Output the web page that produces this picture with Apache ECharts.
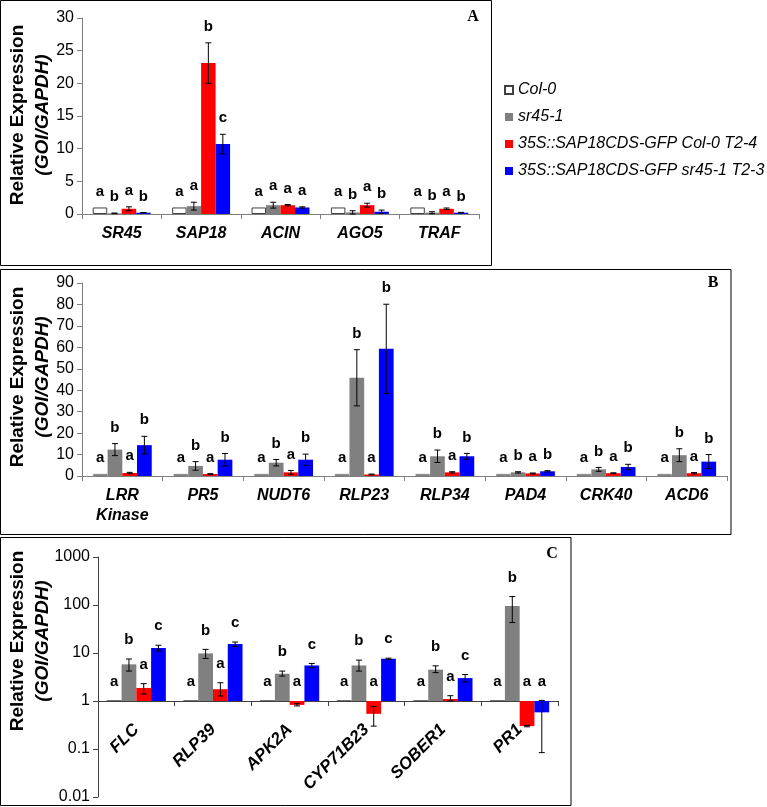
<!DOCTYPE html>
<html><head><meta charset="utf-8">
<script src="https://cdn.jsdelivr.net/npm/echarts@6/dist/echarts.min.js"></script>
<style>html,body{margin:0;padding:0;background:#fff}#c{width:767px;height:807px}</style>
</head><body><div id="c"></div>
<script>
const seriesNames = ['Col-0', 'sr45-1', '35S::SAP18CDS-GFP Col-0 T2-4', '35S::SAP18CDS-GFP sr45-1 T2-3'];

// ---------- Panel A ----------
const catsA = ['SR45', 'SAP18', 'ACIN', 'AGO5', 'TRAF'];
const col0A = [1, 1, 1, 1, 1];
const col0A_sd = [0, 0, 0, 0, 0];
const sr45A = [0.1, 1.2, 1.35, 0.25, 0.2];
const sr45A_sd = [0.05, 0.6, 0.45, 0.25, 0.15];
const redA = [0.8, 23.1, 1.35, 1.35, 0.8];
const redA_sd = [0.3, 3.1, 0.1, 0.3, 0.12];
const blueA = [0.2, 10.7, 1.0, 0.35, 0.2];
const blueA_sd = [0.03, 1.5, 0.1, 0.25, 0.05];
const lettersA_col0 = ['a', 'a', 'a', 'a', 'a'];
const lettersA_sr45 = ['b', 'a', 'a', 'b', 'b'];
const lettersA_red = ['a', 'b', 'a', 'a', 'a'];
const lettersA_blue = ['b', 'c', 'a', 'b', 'b'];
const axisA = { min: 0, max: 30, interval: 5 };

// ---------- Panel B ----------
const catsB = ['LRR\nKinase', 'PR5', 'NUDT6', 'RLP23', 'RLP34', 'PAD4', 'CRK40', 'ACD6'];
const col0B = [1, 1, 1, 1, 1, 1, 1, 1];
const col0B_sd = [0, 0, 0, 0, 0, 0, 0, 0];
const sr45B = [12.3, 4.7, 6.2, 45.8, 9.2, 1.7, 3.1, 9.7];
const sr45B_sd = [2.8, 2.0, 1.5, 13.1, 2.9, 0.3, 0.9, 3.0];
const redB = [1.4, 0.9, 1.7, 0.7, 1.7, 1.2, 1.3, 1.3];
const redB_sd = [0.3, 0.2, 0.9, 0.2, 0.3, 0.2, 0.2, 0.3];
const blueB = [14.4, 7.6, 7.6, 59.3, 9.2, 2.2, 4.2, 6.7];
const blueB_sd = [4.1, 2.9, 2.6, 20.8, 1.35, 0.3, 1.25, 3.3];
const lettersB_col0 = ['a', 'a', 'a', 'a', 'a', 'a', 'a', 'a'];
const lettersB_sr45 = ['b', 'b', 'b', 'b', 'b', 'b', 'b', 'b'];
const lettersB_red = ['a', 'a', 'a', 'a', 'a', 'a', 'a', 'a'];
const lettersB_blue = ['b', 'b', 'b', 'b', 'b', 'b', 'b', 'b'];
const axisB = { min: 0, max: 90, interval: 10 };

// ---------- Panel C (log scale, asymmetric error bounds) ----------
const catsC = ['FLC', 'RLP39', 'APK2A', 'CYP71B23', 'SOBER1', 'PR1'];
const col0C = [1, 1, 1, 1, 1, 1];
const col0C_lo = [1, 1, 1, 1, 1, 1];
const col0C_hi = [1, 1, 1, 1, 1, 1];
const sr45C = [5.8, 9.8, 3.7, 5.5, 4.5, 95];
const sr45C_lo = [4.2, 7.7, 3.3, 4.2, 3.9, 43];
const sr45C_hi = [7.5, 11.9, 4.2, 7.1, 5.4, 150];
const redC = [1.87, 1.76, 0.83, 0.54, 1.1, 0.30];
const redC_lo = [1.4, 1.27, 0.79, 0.3, 1.0, 0.29];
const redC_hi = [2.3, 2.4, 0.88, 0.77, 1.29, 0.31];
const blueC = [12.7, 15.4, 5.5, 7.6, 3.0, 0.58];
const blueC_lo = [11.0, 13.6, 4.93, 7.3, 2.5, 0.084];
const blueC_hi = [14.5, 16.9, 6.06, 7.8, 3.56, 1.03];
const lettersC_col0 = ['a', 'a', 'a', 'a', 'a', 'a'];
const lettersC_sr45 = ['b', 'b', 'b', 'b', 'b', 'b'];
const lettersC_red = ['a', 'a', 'a', 'a', 'a', 'a'];
const lettersC_blue = ['c', 'c', 'c', 'c', 'c', 'a'];
const axisC = { min: 0.01, max: 1000 };

// ---------- helpers ----------
const FONT = 'Liberation Sans';
const colors = ['#ffffff', '#808080', '#ff0000', '#0000ff'];
const gaps = [0.27, 0.27, 0.23];

function bar(panel, k, data, borderCol) {
  return {
    type: 'bar', name: seriesNames[k], xAxisIndex: panel, yAxisIndex: panel,
    data: data, barGap: '0%', barCategoryGap: (gaps[panel] * 100) + '%',
    itemStyle: { color: colors[k], borderColor: k === 0 ? borderCol : colors[k], borderWidth: k === 0 ? 1 : 0 },
    emphasis: { disabled: true }
  };
}
function sym(v, sd) { return { lo: v.map((x, i) => x - sd[i]), hi: v.map((x, i) => x + sd[i]) }; }

function err(panel, k, vals, lo, hi, letters, labelOff, baseline) {
  return {
    type: 'custom', xAxisIndex: panel, yAxisIndex: panel, z: 5, silent: true, clip: false,
    data: vals.map((v, i) => [i, v, lo[i], hi[i]]),
    encode: { x: 0, y: 1 },
    renderItem: function (params, api) {
      const i = api.value(0), v = api.value(1), l = api.value(2), h = api.value(3);
      const band = api.size([1, 0], [i, baseline])[0];
      const w = band * (1 - gaps[panel]) / 4;
      const cx = api.coord([i, baseline])[0] + (k - 1.5) * w;
      const ch = [];
      if (h - l > 1e-9) {
        const y1 = api.coord([i, h])[1], y2 = api.coord([i, l])[1];
        const st = { stroke: '#000', lineWidth: 1 };
        ch.push({ type: 'line', shape: { x1: cx, y1: y1, x2: cx, y2: y2 }, style: st });
        ch.push({ type: 'line', shape: { x1: cx - 3, y1: y1, x2: cx + 3, y2: y1 }, style: st });
        ch.push({ type: 'line', shape: { x1: cx - 3, y1: y2, x2: cx + 3, y2: y2 }, style: st });
      }
      const top = Math.max(h, v, baseline);
      const ty = api.coord([i, top])[1] - labelOff;
      ch.push({ type: 'text', x: cx, y: ty, style: { text: letters[i], fill: '#000', font: 'bold 15px "' + FONT + '"', align: 'center', verticalAlign: 'middle' } });
      return { type: 'group', children: ch };
    }
  };
}

const eA = [sym(col0A, col0A_sd), sym(sr45A, sr45A_sd), sym(redA, redA_sd), sym(blueA, blueA_sd)];
const eB = [sym(col0B, col0B_sd), sym(sr45B, sr45B_sd), sym(redB, redB_sd), sym(blueB, blueB_sd)];

const series = [
  bar(0, 0, col0A, '#404040'), bar(0, 1, sr45A), bar(0, 2, redA), bar(0, 3, blueA),
  bar(1, 0, col0B, '#808080'), bar(1, 1, sr45B), bar(1, 2, redB), bar(1, 3, blueB),
  bar(2, 0, col0C, '#404040'), bar(2, 1, sr45C), bar(2, 2, redC), bar(2, 3, blueC),
  err(0, 0, col0A, eA[0].lo, eA[0].hi, lettersA_col0, 16, 0),
  err(0, 1, sr45A, eA[1].lo, eA[1].hi, lettersA_sr45, 16, 0),
  err(0, 2, redA, eA[2].lo, eA[2].hi, lettersA_red, 16, 0),
  err(0, 3, blueA, eA[3].lo, eA[3].hi, lettersA_blue, 16, 0),
  err(1, 0, col0B, eB[0].lo, eB[0].hi, lettersB_col0, 16, 0),
  err(1, 1, sr45B, eB[1].lo, eB[1].hi, lettersB_sr45, 16, 0),
  err(1, 2, redB, eB[2].lo, eB[2].hi, lettersB_red, 16, 0),
  err(1, 3, blueB, eB[3].lo, eB[3].hi, lettersB_blue, 16, 0),
  err(2, 0, col0C, col0C_lo, col0C_hi, lettersC_col0, 19, 1),
  err(2, 1, sr45C, sr45C_lo, sr45C_hi, lettersC_sr45, 19, 1),
  err(2, 2, redC, redC_lo, redC_hi, lettersC_red, 19, 1),
  err(2, 3, blueC, blueC_lo, blueC_hi, lettersC_blue, 19, 1)
];

function xAx(grid, cats, lineCol, extra) {
  return Object.assign({
    type: 'category', gridIndex: grid, data: cats,
    axisLine: { show: true, onZero: false, lineStyle: { color: lineCol, width: 1 } },
    axisTick: { show: true, length: 5, lineStyle: { color: lineCol } },
    axisLabel: { interval: 0, color: '#000', fontFamily: FONT, fontSize: 16, fontWeight: 'bold', fontStyle: 'italic', margin: 10, lineHeight: 20 },
    splitLine: { show: false }
  }, extra || {});
}
function yAx(grid, lineCol, extra) {
  return Object.assign({
    type: 'value', gridIndex: grid,
    axisLine: { show: true, lineStyle: { color: lineCol, width: 1 } },
    axisTick: { show: true, length: 5, lineStyle: { color: lineCol } },
    axisLabel: { color: '#000', fontFamily: FONT, fontSize: 16, margin: 8 },
    splitLine: { show: false }
  }, extra);
}

function yTitle(x, y) {
  return {
    type: 'text', x: x, y: y, rotation: Math.PI / 2, silent: true,
    style: {
      text: '{t|Relative Expression}\n{i|(GOI/GAPDH)}',
      align: 'center', verticalAlign: 'middle', fill: '#000',
      rich: {
        t: { fontFamily: FONT, fontSize: 19, fontWeight: 'bold', lineHeight: 25, fill: '#000' },
        i: { fontFamily: FONT, fontSize: 19, fontWeight: 'bold', fontStyle: 'italic', lineHeight: 25, fill: '#000' }
      }
    }
  };
}
function box(x, y, w, h) {
  return { type: 'rect', silent: true, shape: { x: x, y: y, width: w, height: h }, style: { fill: 'none', stroke: '#000', lineWidth: 1 } };
}
function letter(t, x, y) {
  return { type: 'text', x: x, y: y, silent: true, style: { text: t, font: 'bold 16px "Liberation Serif"', fill: '#000', align: 'center', verticalAlign: 'middle' } };
}

const option = {
  animation: false,
  backgroundColor: '#fff',
  legend: {
    data: seriesNames, orient: 'vertical', left: 499, top: 77,
    itemWidth: 8, itemHeight: 8, itemGap: 11, icon: 'rect', selectedMode: false,
    textStyle: { fontFamily: FONT, fontSize: 16, fontStyle: 'italic', color: '#000', lineHeight: 16 }
  },
  grid: [
    { left: 82, top: 18, width: 397, height: 196 },
    { left: 82, top: 283, width: 645, height: 193 },
    { left: 98, top: 557, width: 460, height: 240 }
  ],
  xAxis: [
    xAx(0, catsA, '#7f7f7f'),
    xAx(1, catsB, '#7f7f7f', {}),
    xAx(2, catsC, '#404040', { offset: -96, axisLabel: { interval: 0, rotate: 45, color: '#000', fontFamily: FONT, fontSize: 17, fontWeight: 'bold', fontStyle: 'italic', margin: 26 } })
  ],
  yAxis: [
    yAx(0, '#7f7f7f', axisA),
    yAx(1, '#7f7f7f', axisB),
    yAx(2, '#404040', { type: 'log', logBase: 10, min: axisC.min, max: axisC.max,
      axisLabel: { color: '#000', fontFamily: FONT, fontSize: 16, margin: 8, formatter: v => String(+(+v).toPrecision(6)) } })
  ],
  series: series,
  graphic: [
    box(0.5, 0.5, 491, 265),
    box(0.5, 269.5, 730.5, 265),
    box(0.5, 537.5, 570.5, 268),
    letter('A', 473, 17), letter('B', 713, 283), letter('C', 552, 554),
    yTitle(30, 115), yTitle(30, 377), yTitle(30, 641)
  ]
};

const chart = echarts.init(document.getElementById('c'), null, { renderer: 'canvas' });
chart.setOption(option);
</script></body></html>
